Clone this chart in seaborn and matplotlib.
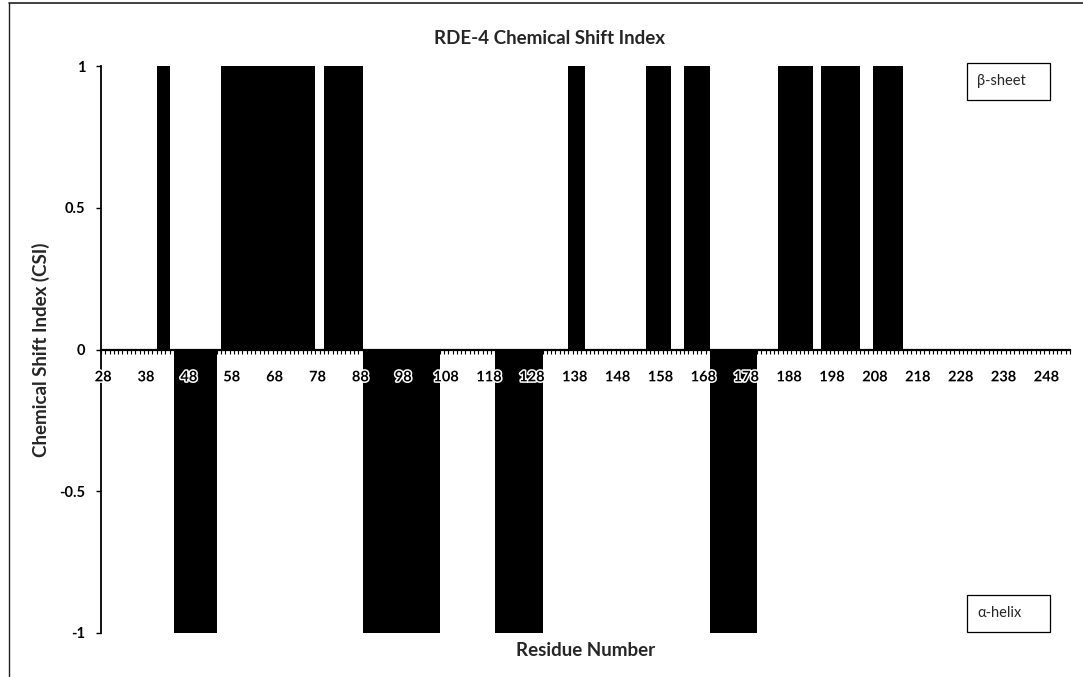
import numpy as np
import pandas as pd
import matplotlib
matplotlib.use("Agg")
import matplotlib.pyplot as plt
import matplotlib.patheffects as pe
from matplotlib.patches import Rectangle
from matplotlib.lines import Line2D
import seaborn as sns

sns.set_style("ticks")
plt.rcParams["font.family"] = ["Lato", "DejaVu Sans"]

# ---------------- data ----------------
residues = list(range(28, 254))
csi = [
    0, 0, 0, 0, 0, 0, 0, 0, 0, 0,            # 28-37
    0, 0, 0, 1, 1, 1, 0, -1, -1, -1,         # 38-47
    -1, -1, -1, -1, -1, -1, -1, 0, 1, 1,     # 48-57
    1, 1, 1, 1, 1, 1, 1, 1, 1, 1,            # 58-67
    1, 1, 1, 1, 1, 1, 1, 1, 1, 1,            # 68-77
    0, 0, 1, 1, 1, 1, 1, 1, 1, 1,            # 78-87
    1, -1, -1, -1, -1, -1, -1, -1, -1, -1,   # 88-97
    -1, -1, -1, -1, -1, -1, -1, -1, -1, 0,   # 98-107
    0, 0, 0, 0, 0, 0, 0, 0, 0, 0,            # 108-117
    0, 0, -1, -1, -1, -1, -1, -1, -1, -1,    # 118-127
    -1, -1, -1, 0, 0, 0, 0, 0, 0, 1,         # 128-137
    1, 1, 1, 0, 0, 0, 0, 0, 0, 0,            # 138-147
    0, 0, 0, 0, 0, 0, 0, 1, 1, 1,            # 148-157
    1, 1, 1, 0, 0, 0, 1, 1, 1, 1,            # 158-167
    1, 1, -1, -1, -1, -1, -1, -1, -1, -1,    # 168-177
    -1, -1, -1, 0, 0, 0, 0, 0, 1, 1,         # 178-187
    1, 1, 1, 1, 1, 1, 0, 0, 1, 1,            # 188-197
    1, 1, 1, 1, 1, 1, 1, 0, 0, 0,            # 198-207
    1, 1, 1, 1, 1, 1, 1, 0, 0, 0,            # 208-217
    0, 0, 0, 0, 0, 0, 0, 0, 0, 0,            # 218-227
    0, 0, 0, 0, 0, 0, 0, 0, 0, 0,            # 228-237
    0, 0, 0, 0, 0, 0, 0, 0, 0, 0,            # 238-247
    0, 0, 0, 0, 0, 0,                        # 248-253
]
x_tick_residues = [28, 38, 48, 58, 68, 78, 88, 98, 108, 118, 128, 138,
                   148, 158, 168, 178, 188, 198, 208, 218, 228, 238, 248]
y_ticks = [-1, -0.5, 0, 0.5, 1]
y_tick_labels = ["-1", "-0.5", "0", "0.5", "1"]

title = "RDE-4 Chemical Shift Index"
x_label = "Residue Number"
y_label = "Chemical Shift Index (CSI)"
upper_note = "β-sheet"
lower_note = "α-helix"

df = pd.DataFrame({"residue": [str(r) for r in residues], "csi": csi})

# ---------------- figure ----------------
W, H = 1083, 677
fig = plt.figure(figsize=(W / 100, H / 100), dpi=100)
ax_l, ax_r, ax_t, ax_b = 101, 1070, 66, 633
ax = fig.add_axes([ax_l / W, 1 - ax_b / H, (ax_r - ax_l) / W, (ax_b - ax_t) / H])

sns.barplot(data=df, x="residue", y="csi", order=list(df["residue"]),
            color="black", width=1.0, saturation=1, errorbar=None,
            linewidth=0, antialiased=False, ax=ax)

ax.set_xlim(-0.5, len(residues) - 0.5)
ax.set_ylim(-1, 1)

for s in ("top", "right"):
    ax.spines[s].set_visible(False)
ax.spines["bottom"].set_position(("data", 0))
ax.spines["bottom"].set_linewidth(1.6)
ax.spines["left"].set_linewidth(1.3)
ax.spines["bottom"].set_color("black")
ax.spines["left"].set_color("black")
ax.set_axisbelow(False)

tick_pos = [residues.index(r) for r in x_tick_residues]
ax.set_xticks(tick_pos)
ax.set_xticklabels([str(r) for r in x_tick_residues])
ax.set_xticks(np.arange(-0.5, len(residues), 1), minor=True)
ax.tick_params(axis="x", which="major", length=0, pad=15, labelsize=10.5,
               colors="black")
ax.tick_params(axis="x", which="minor", length=3.2, width=0.8,
               direction="out", color="black")
for t in ax.get_xticklabels():
    t.set_fontweight("bold")
    t.set_path_effects([pe.withStroke(linewidth=2.2, foreground="white")])

ax.set_yticks(y_ticks)
ax.set_yticklabels(y_tick_labels)
ax.tick_params(axis="y", length=3.5, width=1.0, direction="out", pad=8,
               labelsize=10.5, colors="black")
for t in ax.get_yticklabels():
    t.set_fontweight("bold")

ax.set_ylabel(y_label, fontsize=13.5, fontweight="bold")
ax.yaxis.set_label_coords((41 - ax_l) / (ax_r - ax_l), 0.5)
ax.yaxis.label.set_va("center")

ax.set_xlabel(x_label, fontsize=13.5, fontweight="bold")
ax.xaxis.set_label_coords(0.5, -(651 - ax_b) / (ax_b - ax_t))
ax.xaxis.label.set_va("center")

fig.text(550 / W, 1 - 38 / H, title, ha="center", va="center",
         fontsize=13.5, fontweight="bold")

# annotation boxes
for (y0, y1, ty, txt) in [(63, 100, 81, upper_note), (595, 632, 613, lower_note)]:
    fig.add_artist(Rectangle((967 / W, 1 - y1 / H), 83 / W, (y1 - y0) / H,
                             transform=fig.transFigure, fill=False,
                             edgecolor="black", linewidth=0.9))
    fig.text(977 / W, 1 - ty / H, txt, ha="left", va="center", fontsize=10.5)

# outer frame (left and top edges)
fig.add_artist(Line2D([9 / W, 9 / W], [0, 1 - 3 / H], transform=fig.transFigure,
                      color="#222222", linewidth=1.0))
fig.add_artist(Line2D([9 / W, 1], [1 - 3 / H, 1 - 3 / H], transform=fig.transFigure,
                      color="#222222", linewidth=1.2))

fig.savefig("out.png", dpi=100)
